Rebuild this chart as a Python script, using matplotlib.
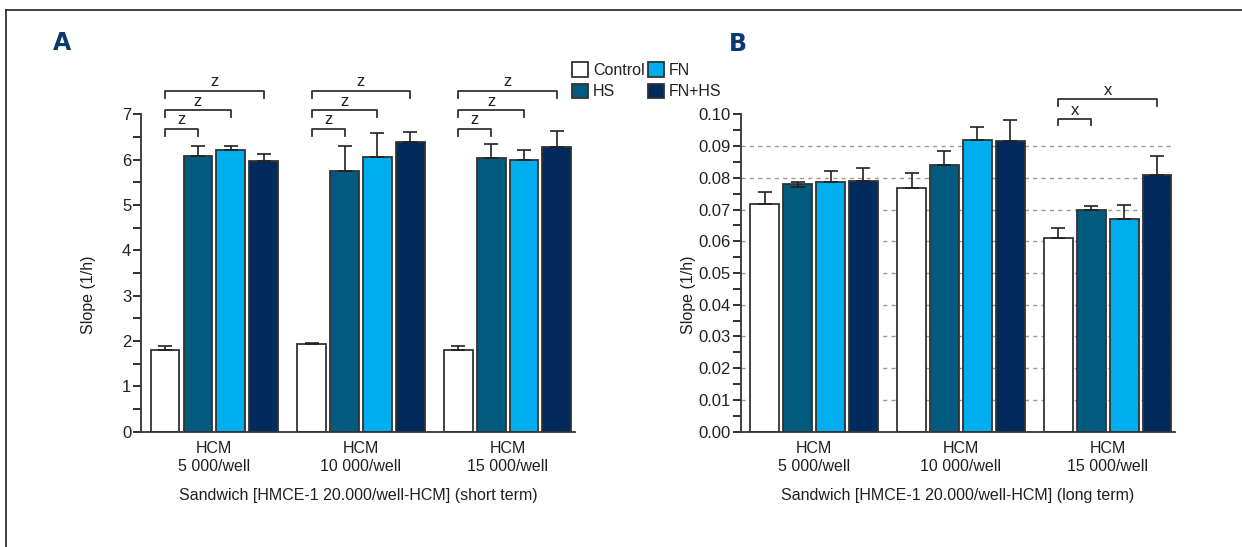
import matplotlib
matplotlib.use('Agg')
import matplotlib.pyplot as plt
import numpy as np
from matplotlib.ticker import MultipleLocator, FormatStrFormatter
from matplotlib.lines import Line2D

plt.rcParams['font.family'] = ['Liberation Sans', 'DejaVu Sans']
plt.rcParams['text.color'] = '#231f20'
plt.rcParams['axes.labelcolor'] = '#231f20'
plt.rcParams['xtick.color'] = '#231f20'
plt.rcParams['ytick.color'] = '#231f20'

# Gruppi e serie
groups = ['HCM\n5 000/well', 'HCM\n10 000/well', 'HCM\n15 000/well']
series = ['Control', 'HS', 'FN', 'FN+HS']
colors = ['#ffffff', '#005b7f', '#00adef', '#002b5c']

# Pannello A (short term)
a_control = [1.81, 1.94, 1.81]
a_hs = [6.09, 5.74, 6.04]
a_fn = [6.22, 6.06, 5.99]
a_fnhs = [5.98, 6.39, 6.27]
a_control_err = [0.07, 0.02, 0.08]
a_hs_err = [0.20, 0.55, 0.30]
a_fn_err = [0.08, 0.53, 0.23]
a_fnhs_err = [0.14, 0.23, 0.36]

# Pannello B (long term)
b_control = [0.0717, 0.0769, 0.0609]
b_hs = [0.0780, 0.0841, 0.0699]
b_fn = [0.0787, 0.0919, 0.0671]
b_fnhs = [0.0791, 0.0915, 0.0808]
b_control_err = [0.0038, 0.0045, 0.0032]
b_hs_err = [0.0008, 0.0043, 0.0013]
b_fn_err = [0.0033, 0.0041, 0.0042]
b_fnhs_err = [0.0040, 0.0067, 0.0061]
b_hs_err_low = [0.0008, 0.0, 0.0]

# Significativita: (gruppo, serie a, serie b, altezza, etichetta)
a_sig = [(g, 0, s, h, 'z') for g in range(3) for s, h in [(1, 6.68), (2, 7.09), (3, 7.52)]]
b_sig = [(2, 0, 1, 0.0985, 'x'), (2, 0, 3, 0.1047, 'x')]

pitch = 0.224
width = 0.196
edge = '#333333'


def draw_panel(ax, values, errs, errs_low, sig, leg, ymax, major, minor, fmt, xlabel):
    x = np.arange(len(groups))
    for i, (vals, err) in enumerate(zip(values, errs)):
        pos = x + (i - 1.5) * pitch
        ax.bar(pos, vals, width=width, color=colors[i], edgecolor=edge, linewidth=1.3,
               label=series[i], zorder=2)
        low = errs_low[i] if errs_low[i] is not None else [0] * len(vals)
        ax.errorbar(pos, vals, yerr=[low, err], fmt='none', ecolor='#231f20',
                    elinewidth=1.2, capsize=5, capthick=1.2, zorder=3)
    for g, s1, s2, h, lab in sig:
        x1 = g + (s1 - 1.5) * pitch
        x2 = g + (s2 - 1.5) * pitch
        ax.plot([x1, x1, x2, x2], [h - leg, h, h, h - leg], color='#333333', lw=1.3,
                clip_on=False, zorder=4)
        ax.text((x1 + x2) / 2, h + leg * 0.2, lab, ha='center', va='bottom', fontsize=12)
    ax.set_xlim(-0.5, 2.46)
    ax.set_ylim(0, ymax)
    ax.set_xticks(x)
    ax.set_xticklabels(groups, fontsize=11.5, linespacing=1.25)
    ax.tick_params(axis='x', length=0, pad=7)
    ax.yaxis.set_major_locator(MultipleLocator(major))
    ax.yaxis.set_minor_locator(MultipleLocator(minor))
    ax.yaxis.set_major_formatter(FormatStrFormatter(fmt))
    ax.tick_params(axis='y', which='major', length=6, width=1.3, labelsize=12, pad=1)
    ax.tick_params(axis='y', which='minor', length=6, width=1.3)
    for sp in ['top', 'right']:
        ax.spines[sp].set_visible(False)
    for sp in ['left', 'bottom']:
        ax.spines[sp].set_linewidth(1.3)
        ax.spines[sp].set_color('#333333')
    ax.set_ylabel('Slope (1/h)', fontsize=11.5)
    ax.yaxis.set_label_coords(-0.103, 0.43)
    ax.set_xlabel(xlabel, fontsize=11.5, labelpad=10)


fig = plt.figure(figsize=(12.42, 5.47), dpi=100)
W, H = 1242, 547
axA = fig.add_axes([141 / W, (H - 431.7) / H, 434 / W, 317.4 / H])
axB = fig.add_axes([740.7 / W, (H - 431.7) / H, 434.6 / W, 317.4 / H])

draw_panel(axA, [a_control, a_hs, a_fn, a_fnhs],
           [a_control_err, a_hs_err, a_fn_err, a_fnhs_err],
           [None, None, None, None], a_sig, 0.15, 7, 1, 0.5, '%d',
           'Sandwich [HMCE-1 20.000/well-HCM] (short term)')

for yv in np.arange(0.01, 0.095, 0.01):
    axB.axhline(yv, color='#9a9a9a', lw=1.0, ls=(0, (3, 3)), zorder=1)
draw_panel(axB, [b_control, b_hs, b_fn, b_fnhs],
           [b_control_err, b_hs_err, b_fn_err, b_fnhs_err],
           [None, b_hs_err_low, None, None], b_sig, 0.002, 0.10, 0.01, 0.005, '%.2f',
           'Sandwich [HMCE-1 20.000/well-HCM] (long term)')

handles, labels = axA.get_legend_handles_labels()
fig.legend(handles, labels, ncol=2, loc='upper left', bbox_to_anchor=(566 / W, 1 - 56 / H),
           frameon=False, fontsize=11.5, handlelength=1.0, handleheight=1.0,
           handletextpad=0.3, columnspacing=0.2, labelspacing=0.35, borderaxespad=0)

fig.text(62 / W, 1 - 43 / H, 'A', fontsize=17, fontweight='bold', color='#0b3a6f',
         family='DejaVu Sans', ha='center', va='center')
fig.text(738 / W, 1 - 44 / H, 'B', fontsize=17, fontweight='bold', color='#0b3a6f',
         family='DejaVu Sans', ha='center', va='center')

# cornice
fig.add_artist(Line2D([6 / W, 1], [1 - 9.5 / H, 1 - 9.5 / H], color='#231f20', lw=1.2))
fig.add_artist(Line2D([6 / W, 6 / W], [0, 1 - 9.5 / H], color='#231f20', lw=1.2))

fig.savefig('out.png', dpi=100)
